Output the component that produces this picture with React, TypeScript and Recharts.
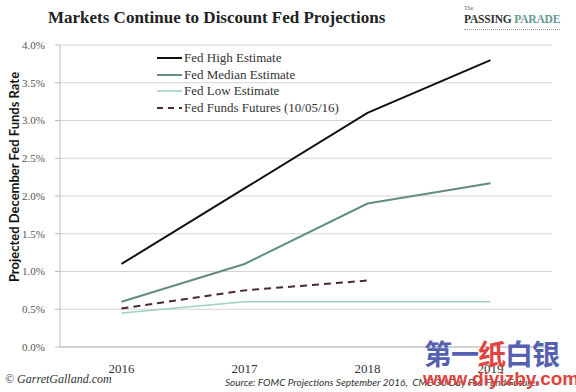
import { LineChart, Line, XAxis, YAxis, CartesianGrid } from 'recharts'

// Values (percent)
const years = ['2016', '2017', '2018', '2019']
const fedHigh = [1.1, 2.1, 3.1, 3.8]
const fedMedian = [0.6, 1.1, 1.9, 2.17]
const fedLow = [0.45, 0.6, 0.6, 0.6]
const fedFutures: (number | null)[] = [0.51, 0.75, 0.88, null]
const yTicks = [0, 0.5, 1, 1.5, 2, 2.5, 3, 3.5, 4]

const SERIES = [
  { key: 'high', name: 'Fed High Estimate', color: '#111111', width: 2, dash: undefined },
  { key: 'median', name: 'Fed Median Estimate', color: '#648c82', width: 2, dash: undefined },
  { key: 'low', name: 'Fed Low Estimate', color: '#9fcfc5', width: 1.6, dash: undefined },
  { key: 'futures', name: 'Fed Funds Futures (10/05/16)', color: '#4a2a2c', width: 2, dash: '7 5' },
]

const data = years.map((year, i) => ({
  year,
  high: fedHigh[i],
  median: fedMedian[i],
  low: fedLow[i],
  futures: fedFutures[i],
}))

const serif = '"Liberation Serif", "DejaVu Serif", serif'
const sans = 'Lato, "Noto Sans", sans-serif'

// Legend sits inside the plot, drawn outside recharts so it doesn't eat margin
function LegendBox() {
  return (
    <div style={{ position: 'absolute', left: 157, top: 50, fontFamily: serif, fontSize: 13, color: '#333' }}>
      {SERIES.map((s) => (
        <div key={s.key} style={{ display: 'flex', alignItems: 'center', height: 16.5, whiteSpace: 'nowrap' }}>
          <svg width={25} height={6} style={{ marginRight: 2 }}>
            <line x1={0} y1={3} x2={25} y2={3} stroke={s.color} strokeWidth={s.width} strokeDasharray={s.dash ? '6 5' : undefined} />
          </svg>
          <span>{s.name}</span>
        </div>
      ))}
    </div>
  )
}

export default function App() {
  return (
    <div style={{ position: 'absolute', left: 0, top: 0, width: 576, height: 392, background: '#fff', overflow: 'hidden' }}>
      <div style={{ position: 'absolute', left: 48, top: 8, fontFamily: serif, fontWeight: 'bold', fontSize: 17, color: '#222', whiteSpace: 'nowrap' }}>
        Markets Continue to Discount Fed Projections
      </div>

      <div style={{ position: 'absolute', left: 464, top: 4, fontFamily: serif, color: '#333', whiteSpace: 'nowrap' }}>
        <div style={{ fontSize: 6, lineHeight: '8px', color: '#666' }}>The</div>
        <div style={{ fontSize: 11.5, fontWeight: 'bold', lineHeight: '15px', borderBottom: '1px dotted #999', paddingBottom: 2, letterSpacing: -0.2 }}>
          PASSING <span style={{ color: '#6a9993' }}>PARADE</span>
        </div>
      </div>

      <div
        style={{
          position: 'absolute',
          left: 14,
          top: 177,
          transform: 'translate(-50%, -50%) rotate(-90deg)',
          whiteSpace: 'nowrap',
          fontFamily: sans,
          fontWeight: 'bold',
          fontSize: 13,
          color: '#111',
        }}
      >
        Projected December Fed Funds Rate
      </div>

      <LineChart width={576} height={392} data={data} margin={{ top: 45, right: 24, bottom: 15, left: 0 }} style={{ position: 'absolute', left: 0, top: 0 }}>
        <CartesianGrid vertical={false} stroke="#d4d4d4" strokeWidth={1.2} />
        <XAxis
          dataKey="year"
          scale="band"
          height={30}
          stroke="#bdbdbd"
          tickLine={false}
          tickMargin={11}
          tick={{ fontFamily: serif, fontSize: 13, fill: '#333' }}
        />
        <YAxis
          width={60}
          domain={[0, 4]}
          ticks={yTicks}
          interval={0}
          stroke="#bdbdbd"
          tickSize={5}
          tickMargin={10}
          tickFormatter={(v: number) => `${v.toFixed(1)}%`}
          tick={{ fontFamily: serif, fontSize: 11, fill: '#555' }}
        />
        {SERIES.map((s) => (
          <Line
            key={s.key}
            type="linear"
            dataKey={s.key}
            name={s.name}
            stroke={s.color}
            strokeWidth={s.width}
            strokeDasharray={s.dash}
            dot={false}
            isAnimationActive={false}
            connectNulls={false}
          />
        ))}
      </LineChart>

      <LegendBox />

      <div style={{ position: 'absolute', left: 5, top: 372, fontFamily: serif, fontStyle: 'italic', fontSize: 12, color: '#333' }}>
        © GarretGalland.com
      </div>
      <div style={{ position: 'absolute', left: 225, top: 376, fontFamily: sans, fontStyle: 'italic', fontSize: 10, color: '#333', whiteSpace: 'nowrap' }}>
        Source: FOMC Projections September 2016,&nbsp; CME 30 Day Fed Fund Futures
      </div>

      <div style={{ position: 'absolute', left: 424, top: 336, fontFamily: '"Noto Sans CJK SC", sans-serif', fontWeight: 'bold', fontSize: 28, lineHeight: '34px', whiteSpace: 'nowrap', letterSpacing: -1 }}>
        <span style={{ color: '#5560b0' }}>第一</span>
        <span style={{ color: '#e0443f' }}>纸</span>
        <span style={{ color: '#5560b0' }}>白银</span>
      </div>
      <div style={{ position: 'absolute', left: 423, top: 368, fontFamily: '"Liberation Sans", sans-serif', fontWeight: 'bold', fontSize: 19, color: '#e0443f', whiteSpace: 'nowrap' }}>
        www.diyizby.com
      </div>
    </div>
  )
}
